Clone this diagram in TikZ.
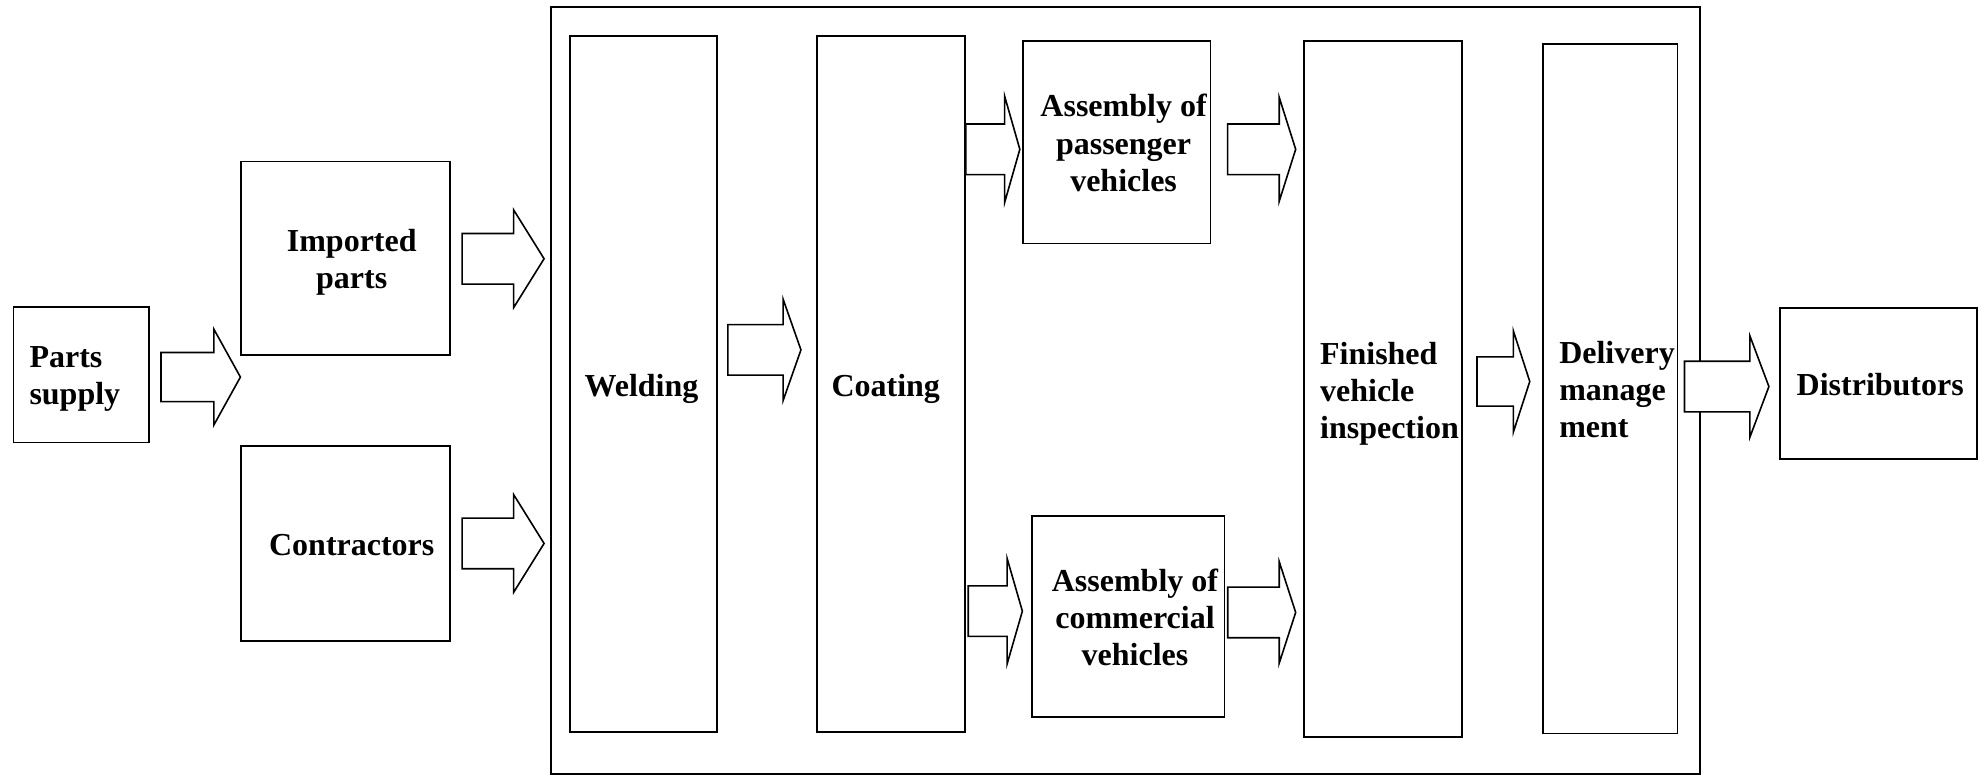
\documentclass[tikz,border=0pt]{standalone}
\usepackage{fontspec}
\setmainfont{Liberation Serif}
\usetikzlibrary{calc}
\tikzset{
  box/.style={draw, line width=0.8pt, fill=white, inner sep=0pt, anchor=north west},
  txt/.style={font=\fontsize{16}{18.6}\selectfont\bfseries, inner sep=0pt, align=center},
  barrowstyle/.style={draw, fill=white, line width=0.8pt, line join=miter},
}
% #1 tail point, #2 tip point, #3 shaft half width, #4 head half width, #5 head length
\newcommand\barrow[5]{%
  \draw[barrowstyle] let \p1=(#1), \p2=(#2) in
    (\x1,\y2+#3) -- (\x2-#5,\y2+#3) -- (\x2-#5,\y2+#4) -- (\x2,\y2)
    -- (\x2-#5,\y2-#4) -- (\x2-#5,\y2-#3) -- (\x1,\y2-#3) -- cycle;}
\begin{document}
\begin{tikzpicture}[x=0.6327pt, y=-0.6327pt]
\useasboundingbox (0,0) rectangle (1568,612);

% outer frame
\node[box, minimum width=574.5pt, minimum height=383.4pt] (frame) at (435,5) {};

% boxes
\node[box, minimum width=67.7pt, minimum height=67.7pt] (ps) at (10,242) {};
\node[box, minimum width=104.4pt, minimum height=96.8pt] (imp) at (190,127) {};
\node[box, minimum width=104.4pt, minimum height=97.4pt] (con) at (190,352) {};
\node[box, minimum width=73.4pt, minimum height=348pt] (weld) at (450,28) {};
\node[box, minimum width=74pt, minimum height=348pt] (coat) at (645,28) {};
\node[box, minimum width=93.6pt, minimum height=101.2pt] (pass) at (808,32) {};
\node[box, minimum width=96.2pt, minimum height=100.6pt] (comm) at (815,407) {};
\node[box, minimum width=79.1pt, minimum height=348pt] (fin) at (1030,32) {};
\node[box, minimum width=67.1pt, minimum height=344.8pt] (del) at (1219,34) {};
\node[box, minimum width=98.7pt, minimum height=75.3pt] (dist) at (1406,243) {};

% texts
\node[txt, anchor=west, align=left] (ps-t) at (23,299.5) {Parts\\supply};
\node[txt] (imp-t) at (278,207) {Imported\\parts};
\node[txt] (con-t) at (278,431) {Contractors};
\node[txt] (weld-t) at (507,307) {Welding};
\node[txt] (coat-t) at (700,307) {Coating};
\node[txt] (pass-t) at (888,113) {Assembly of\\passenger\\vehicles};
\node[txt] (comm-t) at (897,488) {Assembly of\\commercial\\vehicles};
\node[txt, anchor=west, align=left] (fin-t) at (1043,311) {Finished\\vehicle\\inspection};
\node[txt, anchor=west, align=left] (del-t) at (1232,308) {Delivery\\manage\\ment};
\node[txt] (dist-t) at (1486,304) {Distributors};

% block arrows
\barrow{$(ps.east)+(9,0)$}{imp.west |- 0,298}{12.3pt}{24pt}{13.3pt}
\barrow{$(imp.east)+(9,0)$}{$(frame.west |- 0,204.5)+(-5,0)$}{12.65pt}{24.4pt}{15.2pt}
\barrow{$(con.east)+(9,0)$}{$(frame.west |- 0,429.5)+(-5,0)$}{12.65pt}{24.4pt}{15.2pt}
\barrow{$(weld.east)+(8,0)$}{$(coat.west |- 0,276.5)+(-12,0)$}{12.65pt}{25.3pt}{8.9pt}
\barrow{coat.east}{$(pass.west |- 0,118)+(-2,0)$}{12.65pt}{26.6pt}{7.6pt}
\barrow{$(coat.east)+(2,0)$}{$(comm.west |- 0,483)+(-7,0)$}{12.65pt}{26.3pt}{7.6pt}
\barrow{$(pass.east)+(13,0)$}{$(fin.west |- 0,118)+(-6,0)$}{12.65pt}{25.9pt}{8.2pt}
\barrow{$(comm.east)+(2,0)$}{$(fin.west |- 0,484)+(-6,0)$}{12.65pt}{25.3pt}{8.2pt}
\barrow{$(fin.east)+(11,0)$}{$(del.west |- 0,301.5)+(-10,0)$}{12.3pt}{25.3pt}{8.2pt}
\barrow{$(del.east)+(5,0)$}{$(dist.west |- 0,305.5)+(-8,0)$}{12.65pt}{25.3pt}{9.5pt}
\end{tikzpicture}
\end{document}
